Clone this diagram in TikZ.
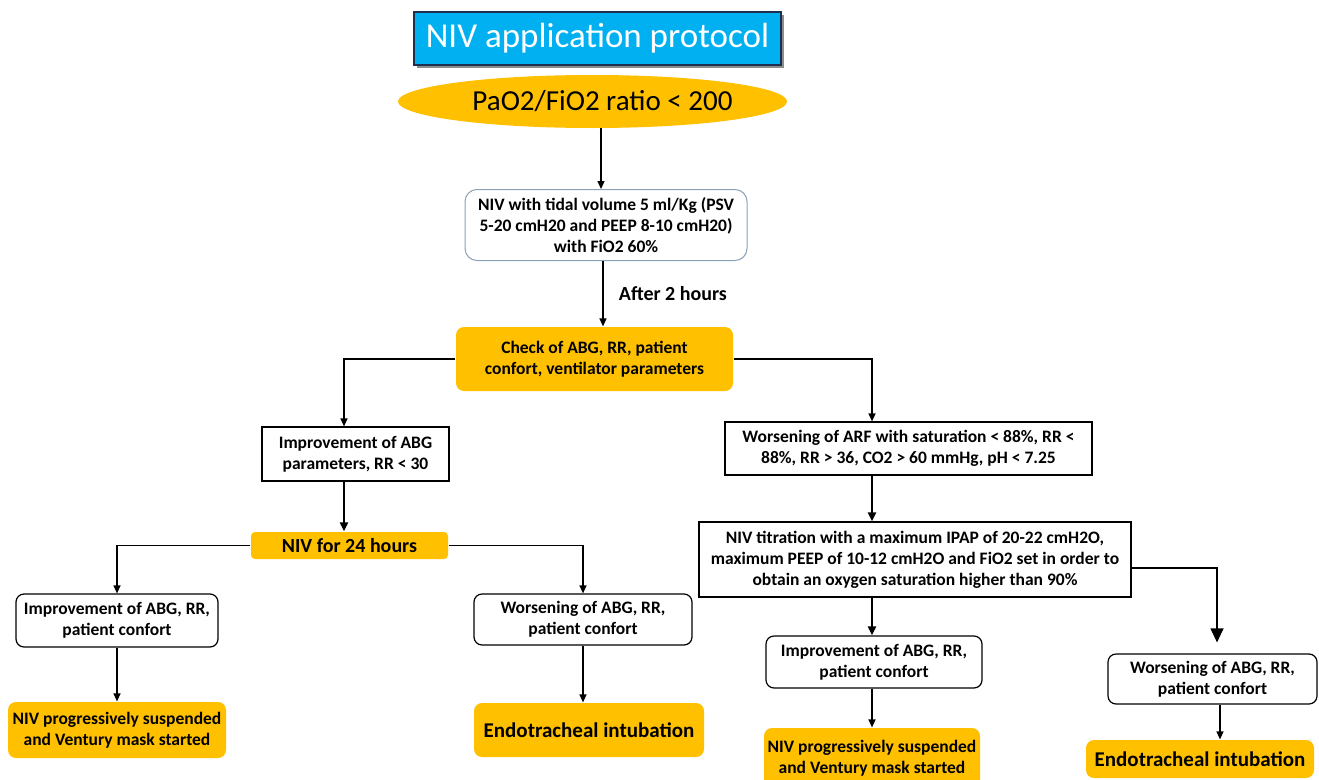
\documentclass[tikz,border=0pt]{standalone}
\usepackage{fontspec}
\setmainfont{Carlito}
\usetikzlibrary{arrows.meta,shadows,shapes.geometric}
\definecolor{orng}{HTML}{FFC000}
\definecolor{cyanb}{HTML}{00B0F0}
\definecolor{navyb}{HTML}{1F2F4F}
\definecolor{nivb}{HTML}{8DA2B8}
\begin{document}
\begin{tikzpicture}[x=1pt,y=-1pt,
  base/.style={align=center, inner sep=0pt, font=\fontsize{17.5}{21}\selectfont\bfseries, line width=1.2pt},
  sbox/.style={base, draw=black, fill=white},
  rbox/.style={base, draw=black, fill=white, rounded corners=8pt},
  obox/.style={base, fill=orng, rounded corners=8pt},
  arr/.style={-{Triangle[length=8pt,width=7pt]}, line width=1.2pt},
  tarr/.style={-{Triangle[length=9pt,width=8pt]}, line width=2.2pt},
  bigarr/.style={-{Triangle[length=14pt,width=13pt]}, line width=1.2pt},
  ln/.style={line width=1.2pt}]
\useasboundingbox (0,0) rectangle (1319,779);
\clip (0,0) rectangle (1319,779);
\fill[white] (0,0) rectangle (1319,779);

% column coordinates
\coordinate (xa) at (601,0);
\coordinate (xb) at (603,0);
\coordinate (xc) at (344,0);
\coordinate (xd) at (872,0);
\coordinate (xe) at (1217,0);
\coordinate (xf) at (1220,0);
\coordinate (ye) at (0,568);

\node[draw=navyb, fill=cyanb, text=white, line width=1.5pt, inner sep=0pt,
      minimum width=367pt, minimum height=53pt,
      font=\fontsize{35}{40}\selectfont,
      drop shadow={shadow xshift=3pt, shadow yshift=-3pt, fill=black, opacity=0.45}]
      (title) at (597.5,38.5) {NIV application protocol};

\node[ellipse, fill=orng, inner ysep=0pt, inner xsep=-30pt, minimum width=389pt, minimum height=53pt,
      font=\fontsize{29}{34}\selectfont] (ell) at (592.5,101.5) {\hspace*{20pt}PaO2/FiO2 ratio < 200};

\node[base, draw=nivb, fill=white, line width=1pt, rounded corners=12pt,
      minimum width=282pt, minimum height=71pt] (niv) at (606,225)
      {NIV with tidal volume 5 ml/Kg (PSV\\5-20 cmH20 and PEEP 8-10 cmH20)\\with FiO2 60\%};

\node[obox, minimum width=277pt, minimum height=64pt] (chk) at (594.5,359)
      {Check of ABG, RR, patient\\confort, ventilator parameters};

\node[sbox, minimum width=187pt, minimum height=54pt] (imp) at (355.5,454)
      {Improvement of ABG\\parameters, RR < 30};

\node[sbox, minimum width=367pt, minimum height=53pt] (arf) at (908.5,448.5)
      {Worsening of ARF with saturation < 88\%, RR <\\88\%, RR > 36, CO2 > 60 mmHg, pH < 7.25};

\node[obox, rounded corners=4pt, minimum width=197pt, minimum height=27pt,
      font=\fontsize{20}{24}\selectfont\bfseries] (n24) at (349.5,545.5) {NIV for 24 hours};

\node[rbox, minimum width=202pt, minimum height=53pt] (l1) at (117,620.5)
      {Improvement of ABG, RR,\\patient confort};
\node[rbox, minimum width=218pt, minimum height=51pt] (l2) at (583,619.5)
      {Worsening of ABG, RR,\\patient confort};
\node[obox, minimum width=218pt, minimum height=56pt] (l3) at (117,730)
      {NIV progressively suspended\\and Ventury mask started};
\node[obox, minimum width=230pt, minimum height=54pt,
      font=\fontsize{21}{25}\selectfont\bfseries] (l4) at (589,730) {Endotracheal intubation};

\node[sbox, minimum width=432pt, minimum height=75pt] (tit) at (915,559.5)
      {NIV titration with a maximum IPAP of 20-22 cmH2O,\\maximum PEEP of 10-12 cmH2O and FiO2 set in order to\\obtain an oxygen saturation higher than 90\%};

\node[rbox, minimum width=216pt, minimum height=52pt] (r1) at (874,662)
      {Improvement of ABG, RR,\\patient confort};
\node[rbox, minimum width=209pt, minimum height=50pt] (r2) at (1212.5,679)
      {Worsening of ABG, RR,\\patient confort};
\node[obox, minimum width=216pt, minimum height=60pt] (r3) at (872,758)
      {NIV progressively suspended\\and Ventury mask started};
\node[obox, minimum width=228pt, minimum height=38pt,
      font=\fontsize{21}{25}\selectfont\bfseries] (r4) at (1200,759) {Endotracheal intubation};

% connectors
\draw[arr] (ell.south -| xa) -- (niv.north -| xa);
\draw[arr] (niv.south -| xb) -- (chk.north -| xb)
      node[midway, right=12pt, font=\fontsize{20}{24}\selectfont\bfseries] (lbl) {After 2 hours};
\draw[arr] (chk.west) -| (imp.north -| xc);
\draw[arr] (chk.east) -| (arf.north -| xd);
\draw[tarr] (imp.south -| xc) -- (n24.north -| xc);
\draw[arr] (n24.west) -| (l1.north);
\draw[arr] (n24.east) -| (l2.north);
\draw[arr] (l1.south) -- (l3.north);
\draw[arr] (l2.south) -- (l4.north -| l2.south);
\draw[tarr] (arf.south -| xd) -- (tit.north -| xd);
\draw[tarr] (tit.south -| xd) -- (r1.north -| xd);
\draw[bigarr, shorten >=11pt] (tit.east |- ye) -| (r2.north -| xe);
\draw[arr] (r1.south -| xd) -- (r3.north -| xd);
\draw[arr] (r2.south -| xf) -- (r4.north -| xf);
\end{tikzpicture}
\end{document}
